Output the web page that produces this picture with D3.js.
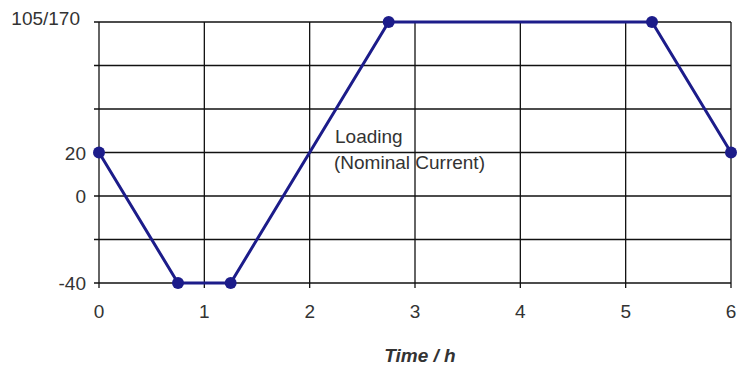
<!DOCTYPE html>
<html>
<meta charset="utf-8">
<head>
    <title>Loading profile</title>
</head>
<style>
    body { margin: 0; background: #fff; }
    text { font-family: "Liberation Sans", Arial, sans-serif; }
</style>
<script src="https://d3js.org/d3.v7.min.js"></script>
<body>
<div id="chart"></div>
<script>

// data (top grid line is the 105/170 level, drawn on a broken axis)
var timeH = [0, 0.75, 1.25, 2.75, 5.25, 6]
var level = [20, -40, -40, 80, 80, 20]
var xTicks = [0, 1, 2, 3, 4, 5, 6]
var yTicks = [-40, -20, 0, 20, 40, 60, 80]
var yTickLabels = ["-40", "", "0", "20", "", "", "105/170"]

var width = 737, height = 368

var svg = d3.select("#chart")
  .append("svg")
  .attr("width", width)
  .attr("height", height)

var x = d3.scaleLinear().domain([0, 6]).range([99, 731])
var y = d3.scaleLinear().domain([-40, 80]).range([283, 22])

// grid
svg.append("g")
  .selectAll("line")
  .data(yTicks).enter()
  .append("line")
  .attr("x1", x(0) - 5).attr("x2", x(6))
  .attr("y1", function(d) { return y(d); })
  .attr("y2", function(d) { return y(d); })
  .style("stroke", "#111")
  .style("stroke-width", 1.3)

svg.append("g")
  .selectAll("line")
  .data(xTicks).enter()
  .append("line")
  .attr("x1", function(d) { return x(d); })
  .attr("x2", function(d) { return x(d); })
  .attr("y1", y(80)).attr("y2", y(-40) + 5)
  .style("stroke", "#111")
  .style("stroke-width", 1.3)

// y labels
svg.append("g")
  .selectAll("text")
  .data(yTicks).enter()
  .append("text")
  .attr("x", function(d, i) { return i == 6 ? 80 : 86; })
  .attr("y", function(d, i) { return y(d) + (i == 6 ? 3 : 7); })
  .style("text-anchor", "end")
  .style("font-size", "19px")
  .style("fill", "#333")
  .text(function(d, i) { return yTickLabels[i]; })

// x labels
svg.append("g")
  .selectAll("text")
  .data(xTicks).enter()
  .append("text")
  .attr("x", function(d) { return x(d); })
  .attr("y", 318)
  .style("text-anchor", "middle")
  .style("font-size", "19px")
  .style("fill", "#333")
  .text(function(d) { return d; })

svg.append("text")
  .attr("x", 420).attr("y", 362)
  .style("text-anchor", "middle")
  .style("font-size", "19px")
  .style("font-weight", "bold")
  .style("font-style", "italic")
  .style("fill", "#333")
  .text("Time / h")

// annotation
svg.append("text")
  .attr("x", 335).attr("y", 143)
  .style("font-size", "19px")
  .style("fill", "#333")
  .text("Loading")
svg.append("text")
  .attr("x", 334).attr("y", 169)
  .style("font-size", "19px")
  .style("fill", "#333")
  .text("(Nominal Current)")

// line and points
var pts = timeH.map(function(t, i) { return [t, level[i]]; })

svg.append("path")
  .datum(pts)
  .attr("d", d3.line()
    .x(function(d) { return x(d[0]); })
    .y(function(d) { return y(d[1]); }))
  .style("fill", "none")
  .style("stroke", "#1c1c8a")
  .style("stroke-width", 3)

svg.append("g")
  .selectAll("circle")
  .data(pts).enter()
  .append("circle")
  .attr("cx", function(d) { return x(d[0]); })
  .attr("cy", function(d) { return y(d[1]); })
  .attr("r", 6)
  .style("fill", "#1c1c8a")

</script>
</body>
</html>
